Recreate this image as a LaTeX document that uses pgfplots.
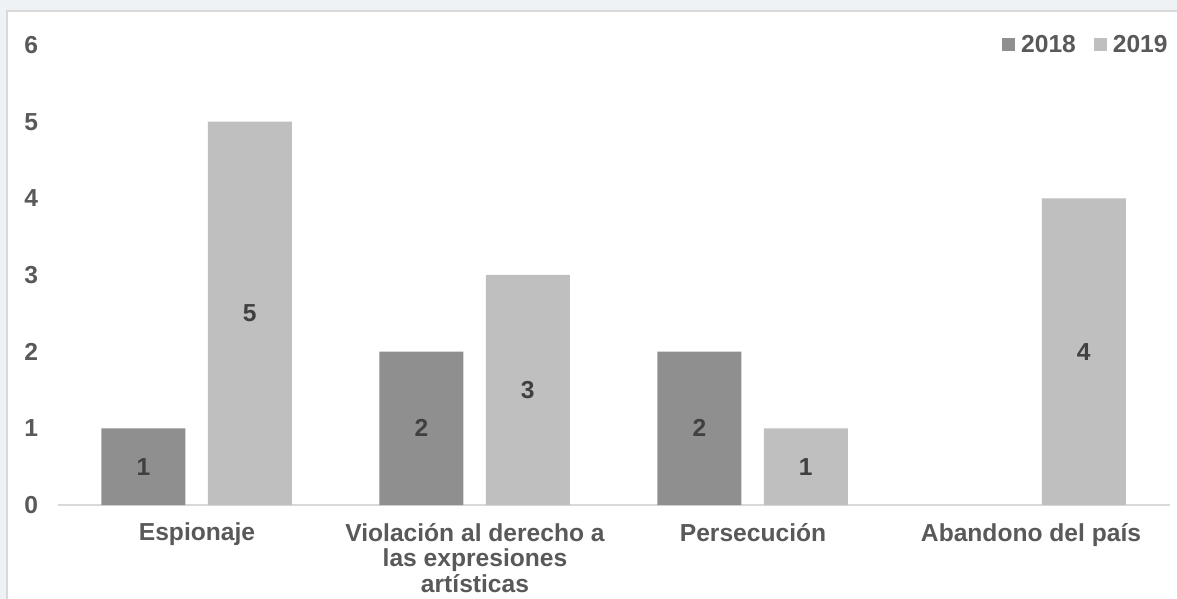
\documentclass[border=0pt]{standalone}
\usepackage{pgfplots}
\pgfplotsset{compat=1.18}
\usepackage{fontspec}
\setmainfont{Liberation Sans}

\definecolor{txt}{HTML}{595959}
\definecolor{lbl}{HTML}{404040}
\definecolor{c18}{HTML}{8F8F8F}
\definecolor{c19}{HTML}{BFBFBF}
\definecolor{bgout}{HTML}{EEF2F5}
\definecolor{frame}{HTML}{D9D9D9}

\begin{document}
\begin{tikzpicture}[font=\fontsize{12.3}{12.9}\selectfont\bfseries]
\useasboundingbox (-29pt,-47pt) rectangle (559.5pt,252.5pt);
\fill[bgout] (-29pt,-47pt) rectangle (559.5pt,252.5pt);
\fill[white, draw=frame, line width=0.8pt] (-25.5pt,-48pt) rectangle (560pt,247pt);
\begin{axis}[
  at={(0,0)}, anchor=south west,
  scale only axis, width=556pt, height=230pt,
  ybar, bar width=0.302,
  xmin=-0.5, xmax=3.5, ymin=0, ymax=6,
  xtick={0,1,2,3},
  xticklabels={Espionaje,{Violación al derecho a\\las expresiones\\artísticas},Persecución,Abandono del país},
  xticklabel style={align=center, text=txt, yshift=-5.5pt},
  ytick={0,...,6},
  yticklabel style={text=txt, xshift=-6.5pt},
  /pgf/number format/assume math mode=true,
  major tick length=0pt,
  axis x line*=bottom, axis y line*=left,
  x axis line style={draw=frame, line width=0.8pt, -},
  y axis line style={draw=none},
  legend style={at={(rel axis cs:1,1)}, anchor=east, xshift=4pt, draw=none, fill=none,
    text=txt, legend columns=2,
    /tikz/every odd column/.append style={column sep=1pt},
    /tikz/every even column/.append style={column sep=7pt}},
  legend image code/.code={\fill[#1] (0pt,-3.25pt) rectangle (6.5pt,3.25pt);},
  nodes near coords,
  visualization depends on={y \as \rawy},
  every node near coord/.append style={anchor=center, text=lbl, yshift={-\rawy*19.1667pt}},
]
\addplot[fill=c18, draw=none, bar shift=-0.193] coordinates {(0,1) (1,2) (2,2)};
\addplot[fill=c19, draw=none, bar shift=0.19] coordinates {(0,5) (1,3) (2,1) (3,4)};
\legend{2018,2019}
\end{axis}
\end{tikzpicture}
\end{document}
